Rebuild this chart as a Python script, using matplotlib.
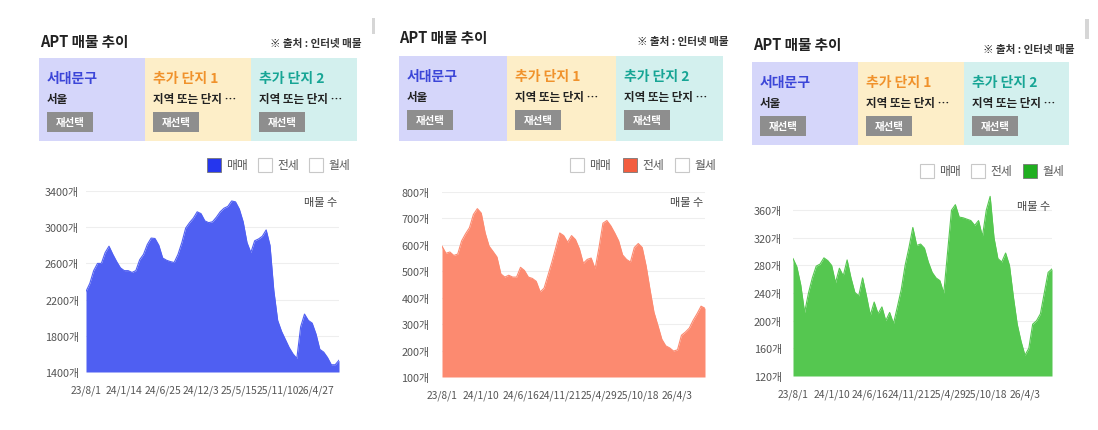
import numpy as np
import matplotlib.pyplot as plt
from matplotlib.patches import Rectangle

plt.rcParams['font.family'] = ['Noto Sans CJK KR', 'DejaVu Sans']

W, H = 1098, 431

# data
region_titles = ['서대문구', '추가 단지 1', '추가 단지 2']
region_subs = ['서울', '지역 또는 단지 …', '지역 또는 단지 …']
trade_types = ['매매', '전세', '월세']

sale_dates = ['23/8/1', '24/1/14', '24/6/25', '24/12/3', '25/5/15', '25/11/10', '26/4/27']
sale_counts = [2290, 2380, 2520, 2600, 2600, 2720, 2790, 2700, 2620, 2550,
               2520, 2520, 2500, 2520, 2640, 2700, 2810, 2880, 2875, 2800,
               2660, 2635, 2620, 2610, 2700, 2830, 2990, 3050, 3100, 3170,
               3150, 3070, 3050, 3060, 3110, 3170, 3210, 3230, 3290, 3280,
               3200, 3060, 2830, 2720, 2850, 2870, 2900, 2970, 2800, 2300,
               1970, 1850, 1760, 1670, 1600, 1550, 1900, 2040, 1970, 1940,
               1820, 1650, 1620, 1560, 1480, 1480, 1530]

rent_dates = ['23/8/1', '24/1/10', '24/6/16', '24/11/21', '25/4/29', '25/10/18', '26/4/3']
jeonse_counts = [595, 568, 573, 560, 565, 615, 642, 665, 715, 737,
                 720, 645, 595, 575, 554, 490, 478, 485, 478, 478,
                 515, 503, 478, 473, 462, 422, 436, 485, 535, 590,
                 645, 635, 610, 635, 620, 585, 530, 545, 550, 510,
                 590, 682, 692, 672, 645, 615, 562, 545, 535, 590,
                 605, 590, 520, 430, 345, 295, 243, 218, 210, 198,
                 203, 258, 270, 285, 315, 340, 368, 360]
wolse_counts = [290, 278, 252, 212, 240, 262, 279, 282, 291, 287,
                280, 255, 276, 265, 288, 262, 241, 236, 262, 236,
                208, 227, 210, 220, 200, 212, 196, 220, 245, 280,
                306, 335, 309, 311, 305, 285, 270, 262, 258, 240,
                300, 360, 368, 350, 349, 347, 345, 338, 345, 322,
                360, 380, 320, 290, 285, 298, 280, 235, 195, 170,
                150, 160, 195, 200, 210, 240, 270, 275]

box_colors = ['#d5d6fa', '#fdeec8', '#d3f0ee']
title_colors = ['#3c46d8', '#f0922c', '#17a595']

panels = [
    dict(title=(40, 42), src=(362, 44), boxes=[39, 145, 251, 357], box_y=(59, 142),
         leg_y=166, leg_x=[207, 258, 309], checked=0, check_color='#2536ee',
         ax=(86, 192, 339, 373), values=sale_counts, dates=sale_dates,
         ylim=(1400, 3400), yticks=range(1400, 3401, 400), fill='#4f5ff2',
         label=(337, 203), pad=5),
    dict(title=(399, 38), src=(729, 42), boxes=[399, 507, 616, 723], box_y=(57, 142),
         leg_y=166, leg_x=[570, 623, 675], checked=1, check_color='#f35d3f',
         ax=(442, 193, 705, 378), values=jeonse_counts, dates=rent_dates,
         ylim=(100, 800), yticks=range(100, 801, 100), fill='#fc8a70',
         label=(703, 203), pad=9),
    dict(title=(753, 45), src=(1075, 50), boxes=[752, 858, 964, 1069], box_y=(63, 146),
         leg_y=172, leg_x=[920, 971, 1023], checked=2, check_color='#20ae20',
         ax=(793, 196, 1052, 377), values=wolse_counts, dates=rent_dates,
         ylim=(120, 382), yticks=range(120, 361, 40), fill='#55c750',
         label=(1050, 207), pad=8),
]

fig = plt.figure(figsize=(W / 100, H / 100), dpi=100)
bg = fig.add_axes([0, 0, 1, 1])
bg.set_xlim(0, W)
bg.set_ylim(H, 0)
bg.axis('off')

# scroll bar bits
bg.add_patch(Rectangle((372, 19), 3, 16, color='#d6d6d6', lw=0))
bg.add_patch(Rectangle((1085, 20), 4, 20, color='#d6d6d6', lw=0))

for p in panels:
    tx, ty = p['title']
    bg.text(tx, ty, 'APT 매물 추이', fontsize=10.5, fontweight='bold', color='#222222', va='center')
    sx, sy = p['src']
    bg.text(sx, sy, '※ 출처 : 인터넷 매물', fontsize=7.6, fontweight='bold', color='#333333',
            ha='right', va='center')

    top, bottom = p['box_y']
    for i in range(3):
        x0, x1 = p['boxes'][i], p['boxes'][i + 1]
        bg.add_patch(Rectangle((x0, top), x1 - x0, bottom - top, color=box_colors[i], lw=0))
        bg.text(x0 + 8, top + 20, region_titles[i], fontsize=10, fontweight='bold',
                color=title_colors[i], va='center')
        bg.text(x0 + 8, top + 41, region_subs[i], fontsize=8.3, fontweight='bold',
                color='#222222', va='center')
        bg.add_patch(Rectangle((x0 + 8, top + 54), 46, 20, color='#8e8e8e', lw=0))
        bg.text(x0 + 31, top + 64, '재선택', fontsize=7.5, fontweight='bold', color='white',
                ha='center', va='center')

    ly = p['leg_y']
    for i, lx in enumerate(p['leg_x']):
        if i == p['checked']:
            bg.add_patch(Rectangle((lx, ly - 7), 14, 14, facecolor=p['check_color'],
                                   edgecolor='#777777', lw=0.6))
        else:
            bg.add_patch(Rectangle((lx, ly - 7), 14, 14, facecolor='white',
                                   edgecolor='#c8c8c8', lw=0.8))
        bg.text(lx + 19, ly, trade_types[i], fontsize=8.5, color='#555555', va='center')

    l, t, r, b = p['ax']
    ax = fig.add_axes([l / W, 1 - b / H, (r - l) / W, (b - t) / H])
    vals = p['values']
    x = np.arange(len(vals))
    ax.fill_between(x, p['ylim'][0], vals, color=p['fill'], lw=0)
    ax.plot(x, vals, color=p['fill'], lw=0.8)
    ax.set_xlim(0, len(vals) - 1)
    ax.set_ylim(*p['ylim'])
    ax.set_yticks(list(p['yticks']))
    ax.set_yticklabels([f'{v}개' for v in p['yticks']])
    ax.set_xticks(range(0, 10 * len(p['dates']), 10))
    ax.set_xticklabels(p['dates'])
    ax.tick_params(length=0, colors='#555555')
    ax.tick_params(axis='y', pad=p['pad'], labelsize=7.8)
    ax.tick_params(axis='x', pad=9, labelsize=7.4)
    ax.grid(axis='y', color='#eeeeee', lw=0.8)
    ax.set_axisbelow(True)
    for s in ax.spines.values():
        s.set_visible(False)
    lx, lyy = p['label']
    bg.text(lx, lyy, '매물 수', fontsize=8, color='#444444', ha='right', va='center', zorder=10)

# label must sit above chart axes
bg.set_zorder(5)
bg.patch.set_alpha(0)
fig.savefig('out.png', dpi=100)
